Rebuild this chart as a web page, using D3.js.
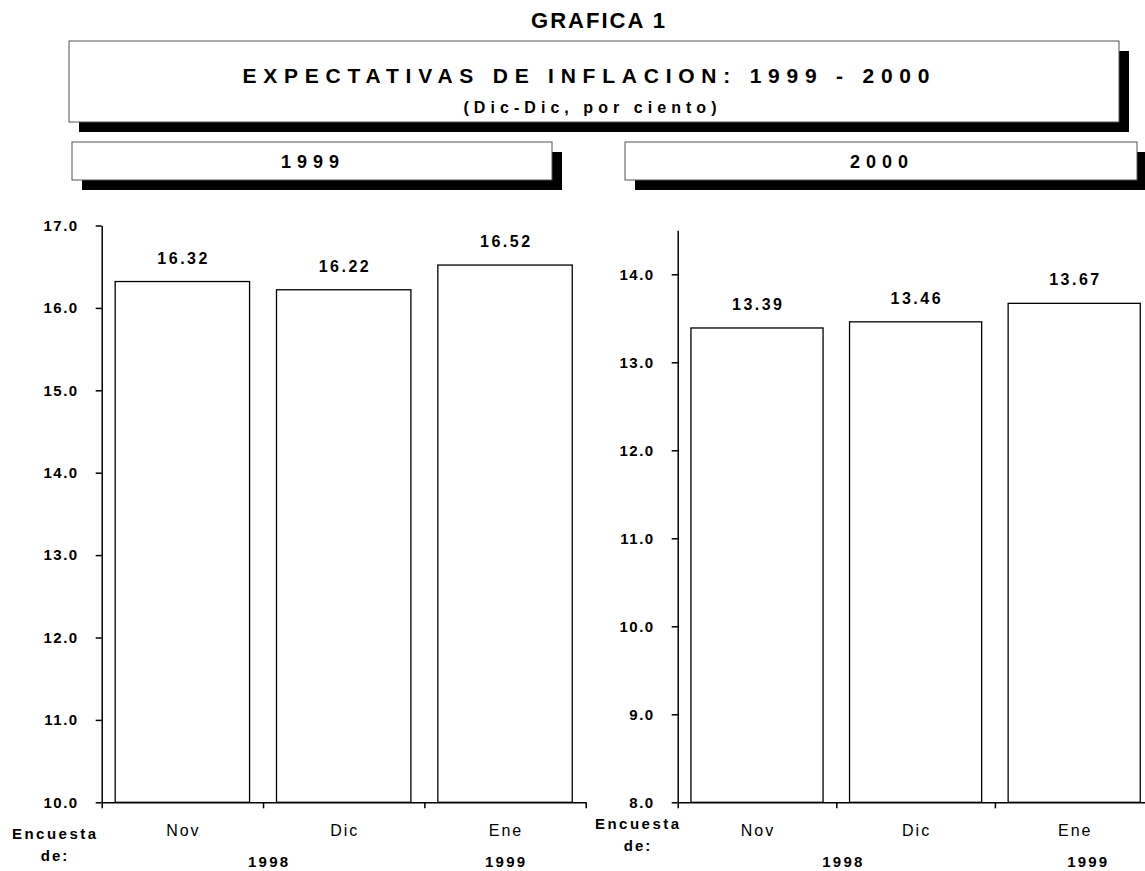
<!DOCTYPE html>
<html lang="es">
  <head>
    <meta charset="utf-8">
    <title>Grafica 1 - Expectativas de inflacion</title>
    <script src="https://cdn.jsdelivr.net/npm/d3@7"></script>
    <style>
      body { margin: 0; background: #fff; }
      svg { display: block; font-family: "Liberation Sans", Arial, sans-serif; }
      .axis path, .axis line { stroke: #000; stroke-width: 1.5px; }
      .axis text { font-size: 15px; font-weight: bold; fill: #000; letter-spacing: 1.5px; }
      .bar { fill: #fff; stroke: #000; stroke-width: 1.3px; }
      .val { font-size: 16px; font-weight: bold; }
      .cat { font-size: 16px; letter-spacing: 2px; }
      .bold { font-weight: bold; }
    </style>
  </head>
  <body>
    <div id="chart"></div>
    <script>

      /*
       * Data
       */
      var categories  = ["Nov", "Dic", "Ene"];
      var values1999  = [16.32, 16.22, 16.52];
      var values2000  = [13.39, 13.46, 13.67];
      var ticks1999   = [10, 11, 12, 13, 14, 15, 16, 17];
      var ticks2000   = [8, 9, 10, 11, 12, 13, 14];
      var panelTitles = ["1999", "2000"];
      var surveyYears = ["1998", "1999"];

      var W = 1145, H = 871;

      var svg = d3.select("#chart").append("svg")
          .attr("width", W)
          .attr("height", H);

      function shadowBox(x, y, w, h) {
        svg.append("rect")
          .attr("x", x + 10).attr("y", y + 10)
          .attr("width", w).attr("height", h)
          .attr("fill", "#000");
        svg.append("rect")
          .attr("x", x).attr("y", y)
          .attr("width", w).attr("height", h)
          .attr("fill", "#fff")
          .attr("stroke", "#555")
          .attr("stroke-width", 1);
      }

      /*
       * Header
       */
      svg.append("text")
        .attr("class", "bold")
        .attr("x", 598).attr("y", 28)
        .attr("text-anchor", "middle")
        .attr("font-size", 22)
        .attr("textLength", 134).attr("lengthAdjust", "spacing")
        .text("GRAFICA 1");

      shadowBox(69, 41, 1050, 81);

      svg.append("text")
        .attr("class", "bold")
        .attr("x", 586).attr("y", 83)
        .attr("text-anchor", "middle")
        .attr("font-size", 21)
        .attr("textLength", 687).attr("lengthAdjust", "spacing")
        .text("EXPECTATIVAS DE INFLACION: 1999 - 2000");

      svg.append("text")
        .attr("class", "bold")
        .attr("x", 590).attr("y", 113)
        .attr("text-anchor", "middle")
        .attr("font-size", 16)
        .attr("textLength", 253).attr("lengthAdjust", "spacing")
        .text("(Dic-Dic, por ciento)");

      /*
       * Panels
       */
      var panels = [
        { title: panelTitles[0], values: values1999, ticks: ticks1999, yMin: 10, yMax: 17,
          x0: 101.7, x1: 585.7, unit: 82.4, box: [72, 142, 480, 38],
          enc: [54, 839], yearOff: [5, 0] },
        { title: panelTitles[1], values: values2000, ticks: ticks2000, yMin: 8, yMax: 14.5,
          x0: 677.7, x1: 1153.5, unit: 88, box: [625, 142, 512, 38],
          enc: [637, 829], yearOff: [6, 13] }
      ];

      var yBase = 802.3;

      panels.forEach(function(p) {

        shadowBox(p.box[0], p.box[1], p.box[2], p.box[3]);
        svg.append("text")
          .attr("class", "bold")
          .attr("x", p.box[0] + p.box[2] / 2 - 2).attr("y", p.box[1] + p.box[3] / 2 + 7)
          .attr("text-anchor", "middle")
          .attr("font-size", 18)
          .attr("textLength", 58).attr("lengthAdjust", "spacing")
          .text(p.title);

        var x = d3.scaleBand()
          .domain(categories)
          .range([p.x0, p.x1])
          .paddingInner(0.167)
          .paddingOuter(0.0835);

        var xEdge = d3.scaleLinear()
          .domain([0, categories.length])
          .range([p.x0, p.x1]);

        var y = d3.scaleLinear()
          .domain([p.yMin, p.yMax])
          .range([yBase, yBase - (p.yMax - p.yMin) * p.unit]);

        // bars
        svg.append("g").selectAll("rect")
          .data(p.values)
          .join("rect")
          .attr("class", "bar")
          .attr("x", function(d, i) { return x(categories[i]); })
          .attr("y", function(d) { return y(d); })
          .attr("width", x.bandwidth())
          .attr("height", function(d) { return y(p.yMin) - y(d); });

        // value labels
        svg.append("g").selectAll("text")
          .data(p.values)
          .join("text")
          .attr("class", "val")
          .attr("x", function(d, i) { return x(categories[i]) + x.bandwidth() / 2; })
          .attr("y", function(d) { return y(d) - 18; })
          .attr("text-anchor", "middle")
          .attr("textLength", 50).attr("lengthAdjust", "spacing")
          .text(function(d) { return d.toFixed(2); });

        // y axis
        svg.append("g")
          .attr("class", "axis")
          .attr("transform", "translate(" + p.x0 + ",0)")
          .call(d3.axisLeft(y).tickValues(p.ticks).tickSize(6).tickSizeOuter(0)
            .tickPadding(17).tickFormat(d3.format(".1f")));

        // x axis, ticks on the band edges
        svg.append("g")
          .attr("class", "axis")
          .attr("transform", "translate(0," + yBase + ")")
          .call(d3.axisBottom(xEdge).tickValues(d3.range(categories.length + 1))
            .tickSize(6).tickSizeOuter(0).tickFormat(""));

        // category labels
        svg.append("g").selectAll("text")
          .data(categories)
          .join("text")
          .attr("class", "cat")
          .attr("x", function(d) { return x(d) + x.bandwidth() / 2 + 1; })
          .attr("y", 836)
          .attr("text-anchor", "middle")
          .text(function(d) { return d; });

        // "Encuesta de:"
        svg.append("text")
          .attr("class", "bold")
          .attr("x", p.enc[0]).attr("y", p.enc[1])
          .attr("text-anchor", "middle")
          .attr("font-size", 15)
          .attr("textLength", 84).attr("lengthAdjust", "spacing")
          .text("Encuesta");
        svg.append("text")
          .attr("class", "bold")
          .attr("x", p.enc[0] + 1).attr("y", p.enc[1] + 22)
          .attr("text-anchor", "middle")
          .attr("font-size", 15)
          .attr("letter-spacing", "2px")
          .text("de:");

        // survey years
        svg.append("text")
          .attr("class", "bold")
          .attr("x", xEdge(1) + p.yearOff[0]).attr("y", 867)
          .attr("text-anchor", "middle")
          .attr("font-size", 15)
          .attr("textLength", 40).attr("lengthAdjust", "spacing")
          .text(surveyYears[0]);
        svg.append("text")
          .attr("class", "bold")
          .attr("x", x("Ene") + x.bandwidth() / 2 + p.yearOff[1]).attr("y", 867)
          .attr("text-anchor", "middle")
          .attr("font-size", 15)
          .attr("textLength", 40).attr("lengthAdjust", "spacing")
          .text(surveyYears[1]);
      });

    </script>
  </body>
</html>
